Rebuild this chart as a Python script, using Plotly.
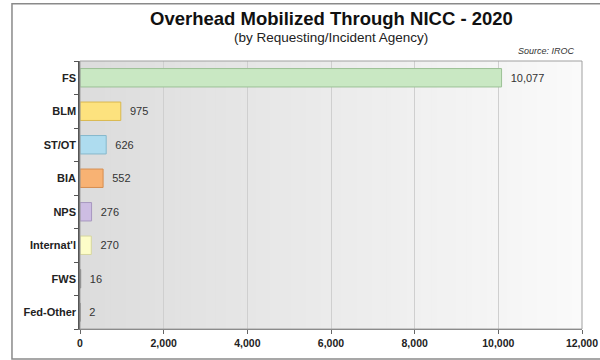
import plotly.graph_objects as go

categories = ["FS", "BLM", "ST/OT", "BIA", "NPS", "Internat'l", "FWS", "Fed-Other"]
values = [10077, 975, 626, 552, 276, 270, 16, 2]
fill_colors = ["#c9e8c3", "#fde27e", "#aedcef", "#f8b273", "#cdbde3", "#fdfdc8", "#d0d0d0", "#d0d0d0"]
line_colors = ["#9cc096", "#d9b850", "#86b8cc", "#d68e50", "#a898c0", "#d6d6a0", "#808080", "#808080"]
x_ticks = [0, 2000, 4000, 6000, 8000, 10000, 12000]

FONT = "Liberation Sans, Arial, sans-serif"
PAD = "\u00a0\u00a0"

fig = go.Figure()
fig.add_trace(go.Bar(
    y=categories,
    x=values,
    orientation="h",
    marker=dict(color=fill_colors, line=dict(color=line_colors, width=1)),
    width=0.55,
    text=[f"{PAD}{v:,}" for v in values],
    textposition="outside",
    textfont=dict(family=FONT, size=11, color="#333333"),
    cliponaxis=False,
    hoverinfo="skip",
))

# gradient background for the plot area (grey on the left to white on the right)
shapes = []
n = 100
for i in range(n):
    t = i / (n - 1)
    c = int(round(220 + (250 - 220) * t))
    shapes.append(dict(type="rect", xref="x domain", yref="y domain",
                       x0=i / n, x1=min(1.0, (i + 1.8) / n), y0=0, y1=1,
                       fillcolor=f"rgb({c},{c},{c})", line=dict(width=0), layer="below"))
# plot area border
shapes.append(dict(type="rect", xref="x domain", yref="y domain", x0=0, x1=1, y0=0, y1=1,
                   line=dict(color="#a0a0a0", width=1), layer="above"))
# outer frame
shapes.append(dict(type="rect", xref="paper", yref="paper",
                   x0=-0.1355, x1=1.05, y0=-0.112, y1=1.214,
                   line=dict(color="#8a8a8a", width=1.5), fillcolor="rgba(0,0,0,0)"))

fig.update_layout(
    width=600, height=360,
    margin=dict(l=80, r=18, t=61, b=31, autoexpand=False),
    paper_bgcolor="white",
    plot_bgcolor="rgba(0,0,0,0)",
    showlegend=False,
    shapes=shapes,
    annotations=[
        dict(text="<b>Overhead Mobilized Through NICC - 2020</b>", xref="paper", yref="paper",
             x=0.5, y=1.159, xanchor="center", yanchor="middle", showarrow=False,
             font=dict(family=FONT, size=18.5, color="#111111")),
        dict(text="(by Requesting/Incident Agency)", xref="paper", yref="paper",
             x=0.5, y=1.086, xanchor="center", yanchor="middle", showarrow=False,
             font=dict(family=FONT, size=13.5, color="#222222")),
        dict(text="<i>Source: IROC</i>", xref="paper", yref="paper",
             x=0.99, y=1.037, xanchor="right", yanchor="middle", showarrow=False,
             font=dict(family=FONT, size=9, color="#333333")),
    ],
    font=dict(family=FONT),
)

fig.update_xaxes(
    range=[0, 12000], tickvals=x_ticks, ticktext=[f"<b>{v:,}</b>" for v in x_ticks],
    showgrid=True, gridcolor="#cfcfcf", gridwidth=1,
    ticks="outside", ticklen=4, tickcolor="#666666",
    showline=True, linecolor="#777777", linewidth=1,
    tickfont=dict(family=FONT, size=10.5, color="#222222"),
    zeroline=False, fixedrange=True, automargin=False,
)
fig.update_yaxes(
    categoryorder="array", categoryarray=categories, autorange="reversed",
    tickson="boundaries", ticks="outside", ticklen=4, tickcolor="#555555",
    showline=True, linecolor="#555555", linewidth=1.5,
    showgrid=False,
    tickfont=dict(family=FONT, size=11, color="#222222"),
    ticktext=[f"<b>{c}</b>" for c in categories], tickvals=categories,
    fixedrange=True, automargin=False,
)

fig.write_html("out.html", config={"displayModeBar": False},
               post_script="document.body.style.margin='0';")
